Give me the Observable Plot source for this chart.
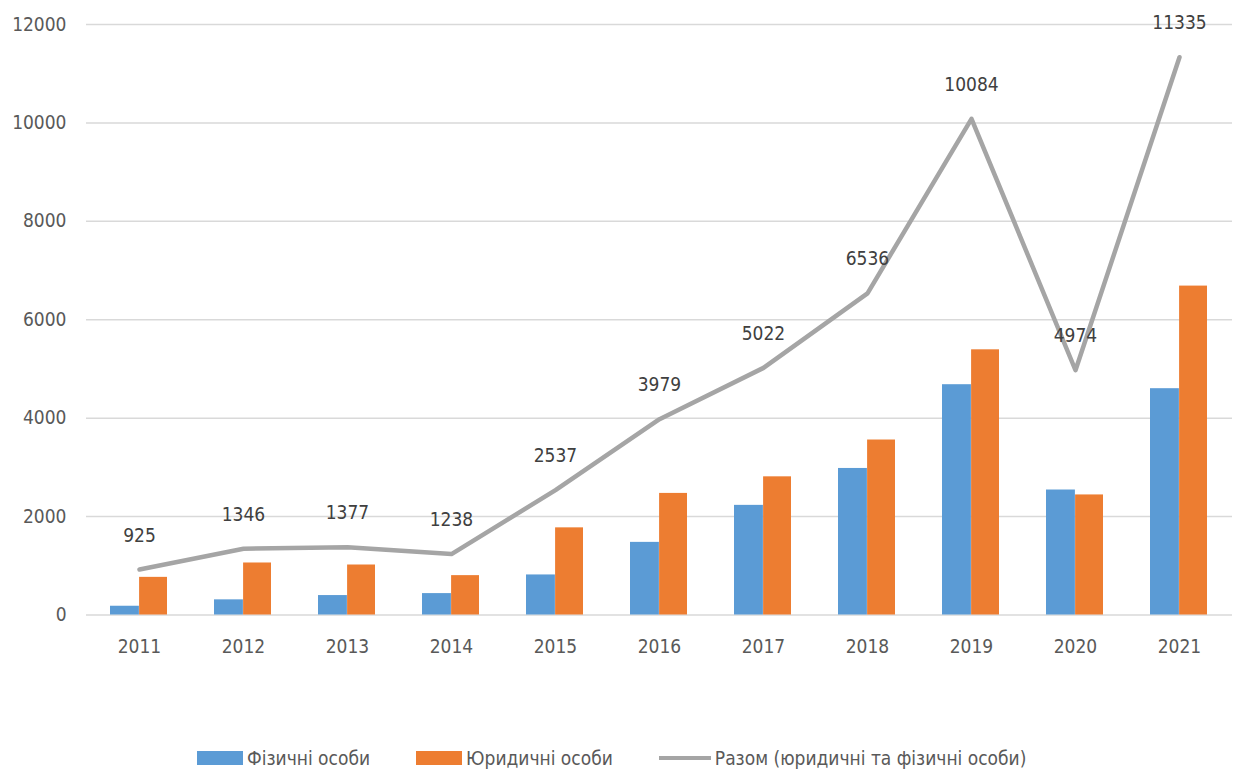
<!DOCTYPE html>
<html>
<head>
<meta charset="utf-8">
<script src="https://cdn.jsdelivr.net/npm/d3@7"></script>
<script src="https://cdn.jsdelivr.net/npm/@observablehq/plot@0.6"></script>
<style>
  body { margin: 0; background: #fff; font-family: "Liberation Sans Narrow", "DejaVu Sans Condensed", sans-serif; }
  #legend { display: flex; align-items: center; margin-top: 72px; padding-left: 197px; font-size: 19px; color: #595959; }
  .item { display: flex; align-items: center; margin-right: 46px; }
  .sw { width: 46px; height: 14px; margin-right: 4px; }
  .ln { width: 52px; height: 4px; margin-right: 4px; background: #A5A5A5; }
</style>
</head>
<body>
<div id="chart"></div>
<div id="legend"></div>
<script>
const years = ["2011","2012","2013","2014","2015","2016","2017","2018","2019","2020","2021"];
const fizychni = [178, 308, 395, 435, 814, 1476, 2228, 2978, 4680, 2540, 4599];
const yurydychni = [765, 1057, 1016, 800, 1771, 2471, 2808, 3556, 5389, 2440, 6684];
const razom = [925, 1346, 1377, 1238, 2537, 3979, 5022, 6536, 10084, 4974, 11335];
const yTicks = [0, 2000, 4000, 6000, 8000, 10000, 12000];
const seriesNames = ["Фізичні особи", "Юридичні особи", "Разом (юридичні та фізичні особи)"];
const colors = ["#5B9BD5", "#ED7D31", "#A5A5A5"];

const fizData = years.map((y, i) => ({year: y, value: fizychni[i]}));
const yurData = years.map((y, i) => ({year: y, value: yurydychni[i]}));
const totData = years.map((y, i) => ({year: y, value: razom[i]}));

const chart = Plot.plot({
  width: 1236,
  height: 675,
  marginTop: 24,
  marginLeft: 86,
  marginRight: 4,
  marginBottom: 60.5,
  style: {fontFamily: '"Liberation Sans Narrow", "DejaVu Sans Condensed", sans-serif', fontSize: "19px", color: "#595959", background: "#fff"},
  x: {domain: years, padding: 0, label: null, tickSize: 0, tickPadding: 24},
  y: {domain: [0, 12000], ticks: yTicks, label: null, tickSize: 0, tickPadding: 20},
  marks: [
    Plot.gridY(yTicks, {stroke: "#D9D9D9", strokeOpacity: 1, strokeWidth: 1.5}),
    Plot.axisX({tickSize: 0, tickPadding: 24, fontSize: 19}),
    Plot.axisY({ticks: yTicks, tickSize: 0, tickPadding: 20, fontSize: 19, tickFormat: d => String(d)}),
    Plot.barY(fizData, {x: "year", y: "value", fill: colors[0], insetLeft: 23, insetRight: 52.1}),
    Plot.barY(yurData, {x: "year", y: "value", fill: colors[1], insetLeft: 52.1, insetRight: 24}),
    Plot.line(totData, {x: "year", y: "value", stroke: colors[2], strokeWidth: 4.5}),
    Plot.text(totData, {x: "year", y: "value", text: d => String(d.value), dy: -34, fill: "#404040", fontSize: 19})
  ]
});
document.getElementById("chart").appendChild(chart);

const legend = document.getElementById("legend");
seriesNames.forEach((name, i) => {
  const item = document.createElement("div");
  item.className = "item";
  const sw = document.createElement("div");
  if (i < 2) { sw.className = "sw"; sw.style.background = colors[i]; }
  else { sw.className = "ln"; }
  item.appendChild(sw);
  const t = document.createElement("span");
  t.textContent = name;
  item.appendChild(t);
  legend.appendChild(item);
});
</script>
</body>
</html>
